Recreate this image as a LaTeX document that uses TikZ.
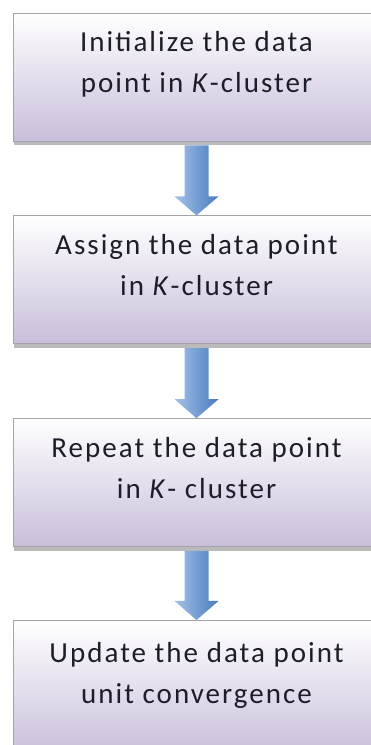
\documentclass[tikz,border=0pt]{standalone}
\usepackage{fontspec}
\setmainfont{Carlito}
\usepackage{tikz}
\usetikzlibrary{positioning,arrows.meta,calc,shadows}
\definecolor{sline}{HTML}{A4A4AA}
\definecolor{slav}{HTML}{C9BEDA}
\definecolor{sink}{HTML}{1E1E28}
\definecolor{sblu}{HTML}{4A7BBE}
\definecolor{sbll}{HTML}{A3C2E8}
\tikzset{
  stepbox/.style ={draw=sline, line width=0.8pt, top color=white, bottom color=slav,
                   minimum width=367pt, minimum height=128pt, align=center, text=sink,
                   font=\fontsize{29}{41}\selectfont\addfontfeatures{LetterSpace=7},
                   text depth=30pt,
                   drop shadow={shadow xshift=1pt, shadow yshift=-4pt, fill=black!45, opacity=.6}},
  downarr/.style ={left color=sbll, right color=sblu, draw=none},
}

\begin{document}
\begin{tikzpicture}[x=1pt, y=1pt, node distance=74pt]
  \path[use as bounding box] (0,0) rectangle (371,745);
  \clip (0,0) rectangle (371,745);
  \node[stepbox] (init) at (196.5,668) {Initialize the data\\point in \textit{K}-cluster};
  \node[stepbox, below=of init] (assign) {Assign the data point\\in \textit{K}-cluster};
  \node[stepbox, below=of assign] (repeat) {Repeat the data point\\in \textit{K}- cluster};
  \node[stepbox, below=73pt of repeat, minimum height=135pt] (update) {Update the data point\\unit convergence};
  \foreach \a/\b in {init/assign, assign/repeat, repeat/update}
    \shade[downarr] ($(\a.south)+(-12,-4)$) -- ($(\b.north)+(-12,19)$) -- ($(\b.north)+(-22,19)$)
      -- (\b.north) -- ($(\b.north)+(22,19)$) -- ($(\b.north)+(12,19)$) -- ($(\a.south)+(12,-4)$) -- cycle;
\end{tikzpicture}
\end{document}
